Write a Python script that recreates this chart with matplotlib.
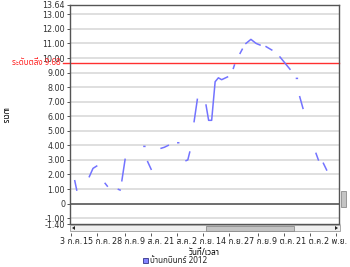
import datetime
import numpy as np
import matplotlib
matplotlib.use("Agg")
import matplotlib.pyplot as plt
import matplotlib.dates as mdates
from matplotlib.patches import Rectangle, Polygon

# water level, Ban Kabin 2012 (days counted from 3 Jul 2012, None = no data)
day_offset = [1.7, 2.6, None, 8.4, 10.1, 11.8, None, 15.7, 16.7, None,
              21.8, 22.6, None, 23.4, 24.9, None, 33.6, 34.0, None,
              35.3, 36.9, None, 41.5, 43.0, 44.8, None, 49.2, 49.6, None,
              53.0, 53.8, 54.7, None, 56.7, 58.2, None,
              62.2, 63.4, 64.8, 66.4, 67.9, 69.4, 72.1, None,
              74.8, 75.3, None, 77.9, 78.9, None, 80.6, 82.9, 85.3, 87.1, None,
              89.9, 92.5, None, 96.3, 100.9, None, 103.9, 104.3, None,
              105.4, 106.9, None, 112.9, 114.0, None, 116.3, 117.8]
level = [1.57, 0.93, None, 1.85, 2.42, 2.58, None, 1.39, 1.20, None,
         0.98, 0.93, None, 1.57, 3.04, None, 3.93, 3.93, None,
         2.88, 2.36, None, 3.80, 3.87, 4.00, None, 4.18, 4.18, None,
         2.95, 3.00, 3.54, None, 5.63, 7.16, None,
         6.77, 5.72, 5.72, 8.37, 8.64, 8.51, 8.70, None,
         9.29, 9.52, None, 10.32, 10.60, None, 11.00, 11.28, 11.00, 10.89, None,
         10.78, 10.55, None, 10.07, 9.23, None, 8.60, 8.60, None,
         7.34, 6.54, None, 3.45, 3.00, None, 2.77, 2.31]

bank_level = 9.68
tick_days = [0, 12, 25, 37, 49, 61, 73, 86, 98, 110, 122]
tick_labels = ["3 ก.ค.", "15 ก.ค.", "28 ก.ค.", "9 ส.ค.", "21 ส.ค.", "2 ก.ย.",
               "14 ก.ย.", "27 ก.ย.", "9 ต.ค.", "21 ต.ค.", "2 พ.ย."]
y_ticks = [-1.40, -1.00, 0] + [float(v) for v in range(1, 14)] + [13.64]
y_labels = ["-1.40", "-1.00", "0"] + ["%.2f" % v for v in range(1, 14)] + ["13.64"]
series_name = "บ้านกบินทร์ 2012"

thai = ['Noto Sans Thai', 'Sarabun', 'Niramit', 'DejaVu Sans']
plt.rcParams['font.family'] = ['DejaVu Sans'] + thai[:-1]

W, H = 350, 267
fig = plt.figure(figsize=(W / 100, H / 100), dpi=100)
fig.patch.set_facecolor("white")

def fx(px):
    return px / W

def fy(py):
    return (H - py) / H

ax = fig.add_axes([fx(70), fy(224), fx(339) - fx(70), fy(5) - fy(224)])

base = mdates.date2num(datetime.datetime(2012, 7, 3))
x = np.array([np.nan if d is None else base + d for d in day_offset])
y = np.array([np.nan if v is None else v for v in level])

for g in range(-1, 14):
    if g == 0:
        ax.axhline(g, color="#555555", lw=1.2, zorder=1)
    else:
        ax.axhline(g, color="#dcdcdc", lw=1.3, zorder=1)

ax.axhline(bank_level, xmin=-0.026, xmax=1, color="#ff3030", lw=1.0,
           clip_on=False, zorder=2)
fig.text(fx(61), fy(5) - (13.64 - bank_level) / 15.04 * (fy(5) - fy(224)),
         "ระดับตลิ่ง 9.68", color="#ff2020", fontsize=5.8, ha="right",
         va="center", family=thai)

ax.plot(x, y, color="#7373ff", lw=1.1, zorder=3)

ax.set_xlim(base - 0.5, base + 123.5)
ax.set_ylim(-1.40, 13.64)
ax.set_yticks(y_ticks)
ax.set_yticklabels(y_labels)
ax.set_xticks([base + d for d in tick_days])
ax.set_xticklabels(tick_labels, family=thai)

for s in ax.spines.values():
    s.set_color("#555555")
    s.set_linewidth(1.0)
ax.spines["bottom"].set_position(("outward", 6.5))
ax.spines["bottom"].set_color("none")
ax.axhline(-1.40, color="#555555", lw=1.0, clip_on=False, zorder=4)

ax.tick_params(axis="y", direction="out", length=2.5, width=0.7,
               color="#555555", labelsize=5.8, labelcolor="#333333", pad=1)
ax.tick_params(axis="x", direction="out", length=2.2, width=0.7,
               color="#555555", labelsize=5.8, labelcolor="#222222", pad=1)

ax.set_xlabel("วันที่/เวลา", family=thai, fontsize=5.8, fontweight="bold",
              labelpad=1)
fig.text(fx(5), fy(115), "เมตร", rotation=270, family=thai, fontsize=5.8,
         fontweight="bold", ha="center", va="center")

# scroll bars
fig.patches.append(Rectangle((fx(70), fy(231)), fx(340) - fx(70), fy(225) - fy(231),
                             transform=fig.transFigure, facecolor="#f0f0f0",
                             edgecolor="#9a9a9a", lw=0.6))
fig.patches.append(Rectangle((fx(206), fy(230.5)), fx(294) - fx(206), fy(225.5) - fy(230.5),
                             transform=fig.transFigure, facecolor="#c4c4c4",
                             edgecolor="#8c8c8c", lw=0.6))
fig.patches.append(Polygon([(fx(72), fy(228)), (fx(75), fy(226)), (fx(75), fy(230))],
                           transform=fig.transFigure, facecolor="#222222", lw=0))
fig.patches.append(Polygon([(fx(338), fy(228)), (fx(335), fy(226)), (fx(335), fy(230))],
                           transform=fig.transFigure, facecolor="#222222", lw=0))
fig.patches.append(Rectangle((fx(341), fy(207)), fx(345.5) - fx(341), fy(191) - fy(207),
                             transform=fig.transFigure, facecolor="#c4c4c4",
                             edgecolor="#8c8c8c", lw=0.6))

# legend
fig.patches.append(Rectangle((fx(143), fy(263)), fx(148) - fx(143), fy(258) - fy(263),
                             transform=fig.transFigure, facecolor="#8484ff",
                             edgecolor="#333388", lw=0.6))
fig.text(fx(150.5), fy(260.5), series_name, family=thai, fontsize=5.8,
         color="#222222", ha="left", va="center")

fig.savefig("out.png", dpi=100, facecolor="white")
